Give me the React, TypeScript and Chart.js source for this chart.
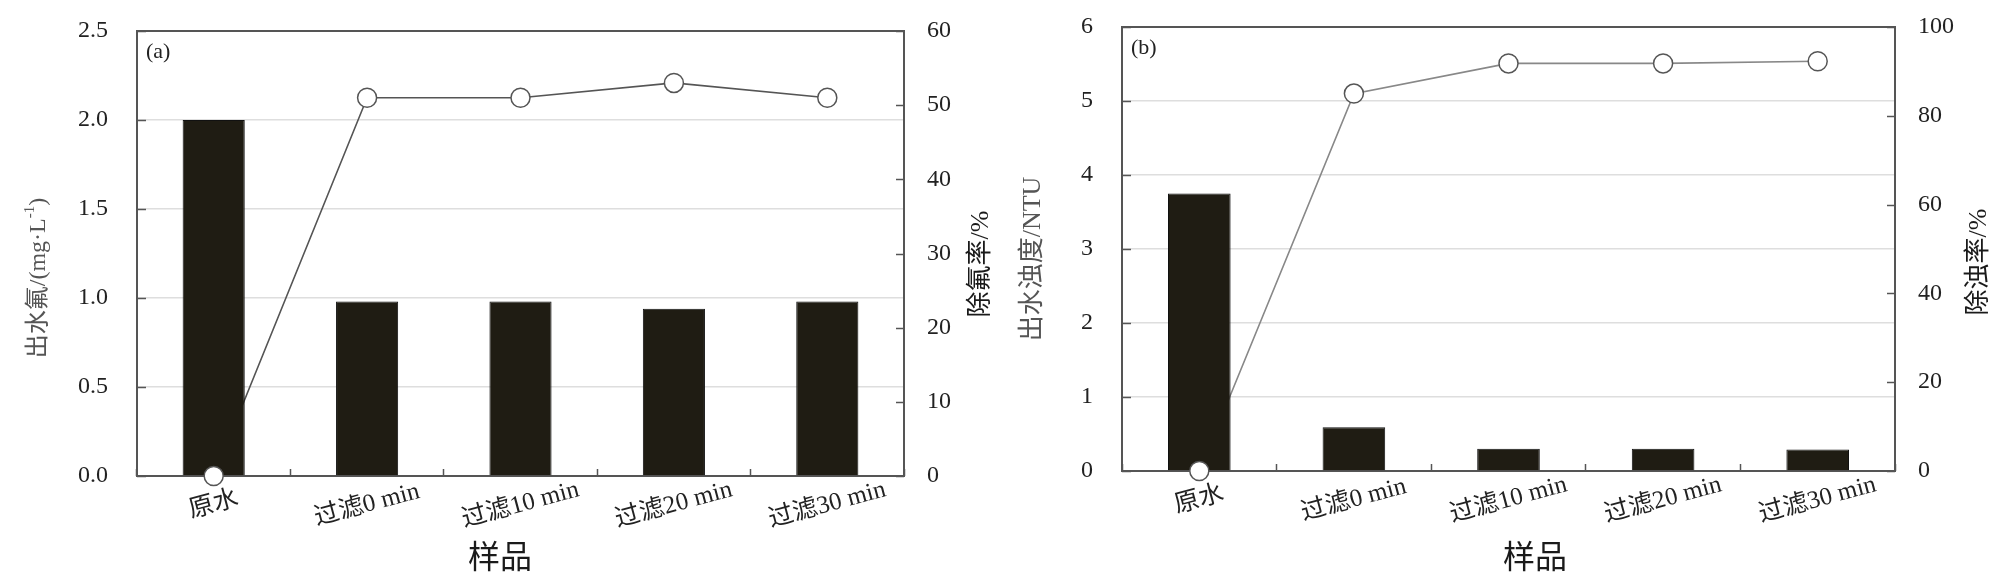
import { useEffect, useRef } from "react"
import { Chart, registerables } from "chart.js"

Chart.register(...registerables)

// sample names on the x axis (both panels)
const samples = ["原水", "过滤0 min", "过滤10 min", "过滤20 min", "过滤30 min"]

// panel (a): effluent fluoride (mg/L) and fluoride removal (%)
const fluorideOut = [2.0, 0.98, 0.98, 0.94, 0.98]
const fluorideRemoval = [0, 51, 51, 53, 51]

// panel (b): effluent turbidity (NTU) and turbidity removal (%)
const turbidityOut = [3.75, 0.59, 0.3, 0.3, 0.29]
const turbidityRemoval = [0, 85, 91.8, 91.8, 92.3]

const serif = "'Liberation Serif', 'Noto Sans CJK SC', serif"

type Part = { text: string; size: number; dy?: number }

type Panel = {
  tag: string
  bars: number[]
  rate: number[]
  leftMax: number
  leftStep: number
  leftDigits: number
  rightMax: number
  rightStep: number
  leftTitle: Part[]
  rightTitle: string
  lineColor: string
  // layout in canvas pixels
  leftWidth: number
  rightWidth: number
  top: number
  bottomHeight: number
  leftTitleX: number
  leftTitleY: number
  rightTitleX: number
  rightTitleY: number
  xTitleX: number
}

const panelA: Panel = {
  tag: "(a)",
  bars: fluorideOut,
  rate: fluorideRemoval,
  leftMax: 2.5,
  leftStep: 0.5,
  leftDigits: 1,
  rightMax: 60,
  rightStep: 10,
  leftTitle: [
    { text: "出水氟/(mg·L", size: 24 },
    { text: "-1", size: 15, dy: -9 },
    { text: ")", size: 24 },
  ],
  rightTitle: "除氟率/%",
  lineColor: "#555",
  leftWidth: 137,
  rightWidth: 100,
  top: 31,
  bottomHeight: 111,
  leftTitleX: 39,
  leftTitleY: 278,
  rightTitleX: 981,
  rightTitleY: 264,
  xTitleX: 500,
}

const panelB: Panel = {
  tag: "(b)",
  bars: turbidityOut,
  rate: turbidityRemoval,
  leftMax: 6,
  leftStep: 1,
  leftDigits: 0,
  rightMax: 100,
  rightStep: 20,
  leftTitle: [{ text: "出水浊度/NTU", size: 26 }],
  rightTitle: "除浊率/%",
  lineColor: "#888",
  leftWidth: 118,
  rightWidth: 113,
  top: 27,
  bottomHeight: 116,
  leftTitleX: 29,
  leftTitleY: 259,
  rightTitleX: 975,
  rightTitleY: 262,
  xTitleX: 531,
}

function drawParts(ctx: CanvasRenderingContext2D, parts: Part[]) {
  let total = 0
  const widths = parts.map(p => {
    ctx.font = `${p.size}px ${serif}`
    const w = ctx.measureText(p.text).width
    total += w
    return w
  })
  ctx.textAlign = "left"
  let x = -total / 2
  parts.forEach((p, i) => {
    ctx.font = `${p.size}px ${serif}`
    ctx.fillText(p.text, x, p.dy || 0)
    x += widths[i]
  })
}

function panelPlugin(p: Panel) {
  return {
    id: "panelText",
    beforeDatasetsDraw(chart: Chart) {
      const { ctx, chartArea } = chart
      const { left, right, top, bottom } = chartArea
      ctx.save()
      ctx.strokeStyle = "#555"
      ctx.lineWidth = 1.5
      // inward tick marks on both value axes
      const yl = chart.scales.y
      yl.ticks.forEach(t => {
        const py = Math.round(yl.getPixelForValue(t.value)) + 0.5
        ctx.beginPath()
        ctx.moveTo(left, py)
        ctx.lineTo(left + 9, py)
        ctx.stroke()
      })
      const yr = chart.scales.y1
      yr.ticks.forEach(t => {
        const py = Math.round(yr.getPixelForValue(t.value)) + 0.5
        ctx.beginPath()
        ctx.moveTo(right, py)
        ctx.lineTo(right - 8, py)
        ctx.stroke()
      })
      // frame
      ctx.lineWidth = 2
      ctx.strokeRect(left, top, right - left, bottom - top)
      ctx.restore()
    },
    afterDraw(chart: Chart) {
      const { ctx, chartArea } = chart
      const xs = chart.scales.x
      ctx.save()
      ctx.textBaseline = "middle"
      ctx.textAlign = "center"
      ctx.fillStyle = "#222"

      // rotated category labels, centred under each category
      ctx.font = `25px ${serif}`
      samples.forEach((s, i) => {
        const cx = xs.getPixelForValue(i)
        ctx.save()
        ctx.translate(cx, chartArea.bottom + 29)
        ctx.rotate((-15 * Math.PI) / 180)
        ctx.fillText(s, 0, 0)
        ctx.restore()
      })

      // x title
      ctx.fillStyle = "#1a1a1a"
      ctx.font = `32px ${serif}`
      ctx.fillText("样品", p.xTitleX, 560)

      // left title
      ctx.save()
      ctx.fillStyle = "#555"
      ctx.translate(p.leftTitleX, p.leftTitleY)
      ctx.rotate(-Math.PI / 2)
      drawParts(ctx, p.leftTitle)
      ctx.restore()

      // right title
      ctx.save()
      ctx.fillStyle = "#1a1a1a"
      ctx.textAlign = "center"
      ctx.font = `26px ${serif}`
      ctx.translate(p.rightTitleX, p.rightTitleY)
      ctx.rotate(-Math.PI / 2)
      ctx.fillText(p.rightTitle, 0, 0)
      ctx.restore()

      // panel tag
      ctx.fillStyle = "#222"
      ctx.textAlign = "left"
      ctx.font = `22px ${serif}`
      ctx.fillText(p.tag, chartArea.left + 9, chartArea.top + 21)
      ctx.restore()
    },
  }
}

function DualAxisPanel({ panel }: { panel: Panel }) {
  const chartRef = useRef<HTMLCanvasElement>(null)
  const chartInstance = useRef<Chart | null>(null)

  useEffect(() => {
    if (!chartRef.current) return
    const ctx = chartRef.current.getContext("2d")
    if (!ctx) return

    if (chartInstance.current) {
      chartInstance.current.destroy()
    }

    const p = panel
    const tickFont = { family: serif, size: 24 }

    chartInstance.current = new Chart(ctx, {
      type: "bar",
      data: {
        labels: samples,
        datasets: [
          {
            type: "line",
            data: p.rate,
            yAxisID: "y1",
            borderColor: p.lineColor,
            borderWidth: 1.6,
            pointRadius: 0,
            order: 3,
          },
          {
            type: "bar",
            data: p.bars,
            yAxisID: "y",
            backgroundColor: "#1f1c13",
            borderColor: "#111",
            borderWidth: 1,
            categoryPercentage: 1,
            barPercentage: 0.405,
            order: 2,
          },
          {
            type: "line",
            data: p.rate,
            yAxisID: "y1",
            showLine: false,
            pointRadius: 9.5,
            pointBackgroundColor: "#fff",
            pointBorderColor: "#555",
            pointBorderWidth: 1.5,
            clip: false,
            order: 1,
          },
        ],
      },
      options: {
        responsive: false,
        animation: false,
        layout: { padding: { top: p.top, left: 0, right: 0, bottom: 0 } },
        plugins: {
          legend: { display: false },
          tooltip: { enabled: false },
        },
        scales: {
          x: {
            offset: true,
            ticks: { display: false },
            border: { display: false },
            grid: {
              offset: true,
              drawOnChartArea: false,
              tickLength: -7,
              tickColor: "#555",
              tickWidth: 1.5,
            },
            afterFit: (s: any) => {
              s.height = p.bottomHeight
            },
          },
          y: {
            position: "left",
            min: 0,
            max: p.leftMax,
            ticks: {
              stepSize: p.leftStep,
              font: tickFont,
              color: "#222",
              padding: 0,
              callback: (v: any) => Number(v).toFixed(p.leftDigits),
            },
            border: { display: false },
            grid: {
              color: (c: any) =>
                c.tick && (c.tick.value === 0 || c.tick.value === p.leftMax) ? "rgba(0,0,0,0)" : "#dedede",
              lineWidth: 1.5,
              tickLength: 29,
              tickColor: "rgba(0,0,0,0)",
            },
            afterFit: (s: any) => {
              s.width = p.leftWidth
            },
          },
          y1: {
            position: "right",
            min: 0,
            max: p.rightMax,
            ticks: {
              stepSize: p.rightStep,
              font: tickFont,
              color: "#222",
              padding: 0,
            },
            border: { display: false },
            grid: {
              drawOnChartArea: false,
              tickLength: 23,
              tickColor: "rgba(0,0,0,0)",
            },
            afterFit: (s: any) => {
              s.width = p.rightWidth
            },
          },
        },
      },
      plugins: [panelPlugin(p)],
    } as any)

    return () => {
      if (chartInstance.current) {
        chartInstance.current.destroy()
        chartInstance.current = null
      }
    }
  }, [panel])

  return <canvas ref={chartRef} width={1004} height={587} style={{ display: "block" }} />
}

export default function App() {
  useEffect(() => {
    document.body.style.margin = "0"
  }, [])

  return (
    <div style={{ display: "flex", width: 2008, height: 587, background: "#fff" }}>
      <DualAxisPanel panel={panelA} />
      <DualAxisPanel panel={panelB} />
    </div>
  )
}
